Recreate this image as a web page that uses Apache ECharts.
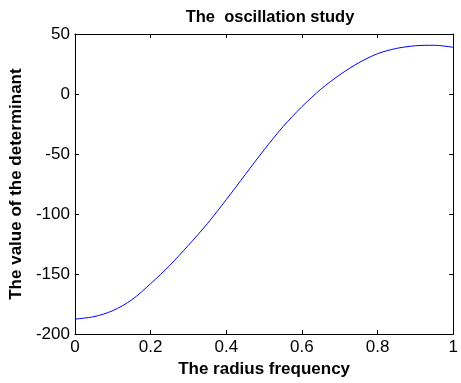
<!DOCTYPE html>
<html><head><meta charset="utf-8">
<script src="https://cdn.jsdelivr.net/npm/echarts@6/dist/echarts.min.js"></script>
<style>html,body{margin:0;padding:0;background:#fff}#c{width:461px;height:383px}</style>
</head><body><div id="c"></div>
<script>
const xValues = [0,0.05,0.1,0.15,0.2,0.25,0.3,0.35,0.4,0.45,0.5,0.55,0.6,0.65,0.7,0.75,0.8,0.85,0.9,0.95,1.0];
const yValues = [-187.5,-185.5,-180.5,-171.5,-158,-143,-126,-108,-88,-67.2,-46.5,-27.2,-10.5,4,16,26,33.6,38,40.2,40.6,38.9];
const xTicks = [0,0.2,0.4,0.6,0.8,1];
const yTicks = [-200,-150,-100,-50,0,50];
const titleText = 'The  oscillation study';
const xName = 'The radius frequency';
const yName = 'The value of the determinant';

const chart = echarts.init(document.getElementById('c'));
const font = 'Liberation Sans, Arial, sans-serif';
const lineStyle = {color:'#000', width:1};
chart.setOption({
  animation:false,
  title:{text:titleText,left:265,top:4,textAlign:'center',textStyle:{fontFamily:font,fontSize:16.5,fontWeight:'bold',color:'#000'}},
  grid:{left:74,right:4,top:34,bottom:48,containLabel:false},
  xAxis:[{type:'value',min:xTicks[0],max:xTicks[xTicks.length-1],interval:0.2,position:'bottom',
    name:xName,nameLocation:'middle',nameGap:25,
    nameTextStyle:{fontFamily:font,fontSize:17,fontWeight:'bold',color:'#000'},
    axisLine:{show:true,onZero:false,lineStyle},axisTick:{show:true,inside:true,length:4,lineStyle},
    axisLabel:{fontFamily:font,fontSize:17,color:'#000',margin:5,formatter:v=>String(+v.toFixed(1))},
    splitLine:{show:false}},
   {type:'value',min:xTicks[0],max:xTicks[xTicks.length-1],interval:0.2,position:'top',
    axisLine:{show:true,onZero:false,lineStyle},axisTick:{show:true,inside:true,length:4,lineStyle},axisLabel:{show:false},splitLine:{show:false}}],
  yAxis:[{type:'value',min:yTicks[0],max:yTicks[yTicks.length-1],interval:50,position:'left',
    name:yName,nameLocation:'middle',nameGap:43,nameRotate:90,
    nameTextStyle:{fontFamily:font,fontSize:17,fontWeight:'bold',color:'#000'},
    axisLine:{show:true,onZero:false,lineStyle},axisTick:{show:true,inside:true,length:4,lineStyle},
    axisLabel:{fontFamily:font,fontSize:17,color:'#000',margin:5},
    splitLine:{show:false}},
   {type:'value',min:yTicks[0],max:yTicks[yTicks.length-1],interval:50,position:'right',
    axisLine:{show:true,onZero:false,lineStyle},axisTick:{show:true,inside:true,length:4,lineStyle},axisLabel:{show:false},splitLine:{show:false}}],
  series:[{type:'line',xAxisIndex:0,yAxisIndex:0,smooth:0.3,showSymbol:false,
    lineStyle:{color:'#0000ff',width:1},
    data:xValues.map((x,i)=>[x,yValues[i]])}]
});
</script></body></html>
